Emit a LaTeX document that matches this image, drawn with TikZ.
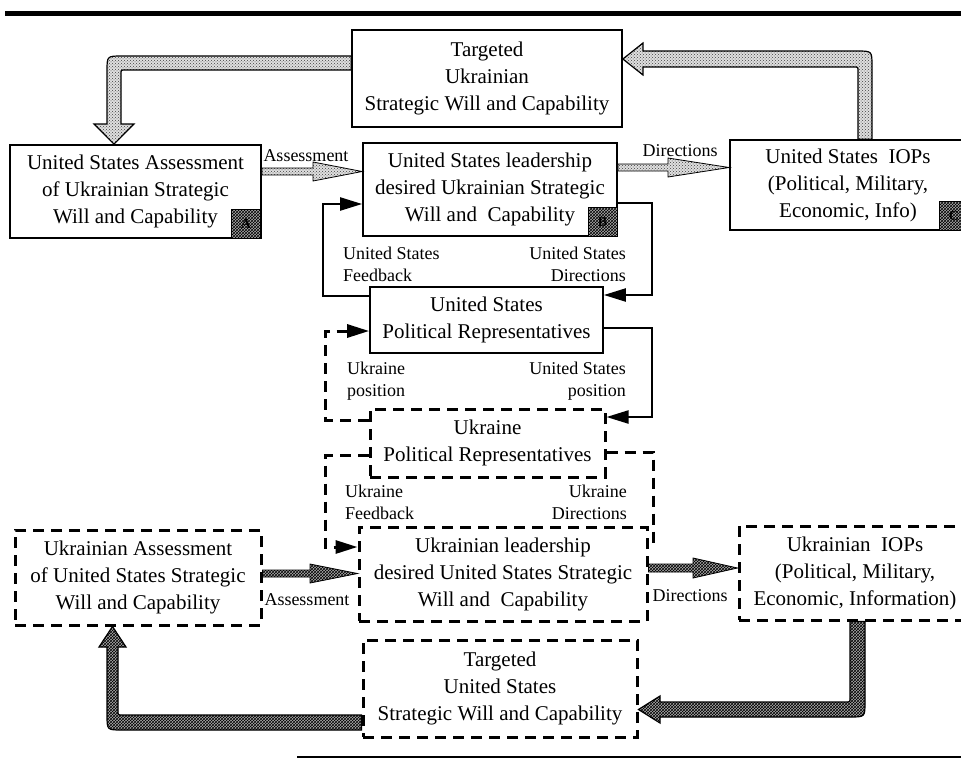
\documentclass[tikz,border=0pt]{standalone}
\usepackage{fontspec}
\setmainfont{Liberation Serif}
\usetikzlibrary{arrows.meta,patterns,calc}
\begin{document}
\begin{tikzpicture}[x=1pt,y=-1pt,
  box/.style={draw, line width=1.7pt, align=center, inner sep=0pt, font=\fontsize{21}{27}\selectfont},
  dbox/.style={box, line width=3pt, dash pattern=on 11pt off 7pt},
  lbl/.style={inner sep=0pt, font=\fontsize{18}{22}\selectfont},
  conn/.style={line width=2.2pt, -{Triangle[length=22pt,width=13pt]}},
  dconn/.style={line width=3pt, dash pattern=on 11pt off 7pt},
  dconnh/.style={dconn, -{Triangle[length=22pt,width=13pt]}},
  lightp/.style={draw=black, line width=1.2pt, preaction={fill=gray!25}, pattern=crosshatch dots, pattern color=black!75},
  darkp/.style={draw=black, line width=1.2pt, preaction={fill=gray!65}, pattern=crosshatch, pattern color=black},
  tagsq/.style={draw, line width=1pt, minimum size=29pt, inner sep=0pt, preaction={fill=gray!65}, pattern=crosshatch, pattern color=black, font=\bfseries\fontsize{14}{14}\selectfont}
]
\useasboundingbox (0,0) rectangle (961,761);

% rules
\draw[line width=5pt] (5,13) -- (961,13);
\draw[line width=2.5pt] (297,757) -- (961,757);

% boxes
\node[box, minimum width=270pt, minimum height=97pt] (T1) at (487,78.5) {Targeted\\Ukrainian\\Strategic Will and Capability};
\node[box, minimum width=251pt, minimum height=93pt] (A) at (135.5,191.5) {United States Assessment\\of Ukrainian Strategic\\Will and Capability};
\node[box, minimum width=254pt, minimum height=93pt] (B) at (490,189.5) {United States leadership\\desired Ukrainian Strategic\\Will and~~Capability};
\node[box, minimum width=236pt, minimum height=90pt] (C) at (848,185) {United States~~IOPs\\(Political, Military,\\Economic, Info)};
\node[box, minimum width=233pt, minimum height=66pt] (P1) at (486.5,320) {United States\\Political Representatives};
\node[dbox, minimum width=235pt, minimum height=68pt] (P2) at (487.5,443) {Ukraine\\Political Representatives};
\node[dbox, minimum width=288pt, minimum height=94pt] (UB) at (503,574) {Ukrainian leadership\\desired United States Strategic\\Will and~~Capability};
\node[dbox, minimum width=246pt, minimum height=95pt] (UA) at (138,577.5) {Ukrainian Assessment\\of United States Strategic\\Will and Capability};
\node[dbox, minimum width=232pt, minimum height=94pt] (UC) at (855,573) {Ukrainian~~IOPs\\(Political, Military,\\Economic, Information)};
\node[dbox, minimum width=274pt, minimum height=97pt] (UT) at (500,688.5) {Targeted\\United States\\Strategic Will and Capability};

% tag squares
\node[tagsq] (sqA) at (246,224) {A};
\node[tagsq] (sqB) at (602.5,221.5) {B};
\node[tagsq] (sqC) at (954,216) {C};

% big hatched arrows (top)
\filldraw[lightp] (T1.west |- 0,56) -- (122,56) .. controls (107,56) .. (107,71) -- (107,124) -- (94,124) -- (114,0 |- A.north) -- (134,124) -- (121,124) -- (121,74) .. controls (121,70) .. (125,70) -- (T1.west |- 0,70) -- cycle;
\filldraw[lightp] (858,0 |- C.north) -- (858,71) .. controls (858,67) .. (854,67) -- (643,67) -- (643,75) -- (T1.east |- 0,59) -- (643,43) -- (643,51) -- (857,51) .. controls (872,51) .. (872,66) -- (872,0 |- C.north) -- cycle;

% thin hatched arrows (top)
\filldraw[lightp, line width=0.8pt] (A.east |- 0,168) -- (313,168) -- (313,162) -- (B.west |- 0,171.5) -- (313,181) -- (313,175) -- (A.east |- 0,175) -- cycle;
\filldraw[lightp, line width=0.8pt] (B.east |- 0,164) -- (668,164) -- (668,158) -- (C.west |- 0,167.5) -- (668,177) -- (668,171) -- (B.east |- 0,171) -- cycle;
\node[lbl] (lAss1) at (306,156) {Assessment};
\node[lbl] (lDir1) at (680,151) {Directions};

% US feedback / directions
\draw[conn] (P1.west |- 0,296) -- (323,296) -- (323,204) -- (B.west |- 0,204);
\draw[conn] (B.east |- 0,203) -- (652,203) -- (652,295) -- (P1.east |- 0,295);
\node[lbl, anchor=west, align=left] (lUSF) at (343,264) {United States\\Feedback};
\node[lbl, anchor=east, align=right] (lUSD) at (626,264) {United States\\Directions};

% positions
\draw[conn] (P1.east |- 0,328) -- (652,328) -- (652,417) -- (P2.east |- 0,417);
\draw[dconnh] (P2.west |- 0,420) -- (325,420) -- (325,331) -- (P1.west |- 0,331);
\node[lbl, anchor=west, align=left] (lUP) at (347,381) {Ukraine\\position};
\node[lbl, anchor=east, align=right] (lUSP) at (626,381) {United States\\position};

% Ukraine feedback / directions
\draw[dconnh] (P2.west |- 0,455) -- (325,455) -- (325,547) -- (UB.west |- 0,547);
\draw[dconn] (P2.east |- 0,452) -- (653,452) -- (653,543) -- (UB.east |- 0,543);
\node[lbl, anchor=west, align=left] (lUF) at (345,502) {Ukraine\\Feedback};
\node[lbl, anchor=east, align=right] (lUD) at (627,502) {Ukraine\\Directions};

% thin hatched arrows (bottom)
\filldraw[darkp, line width=0.8pt] (UA.east |- 0,570) -- (310,570) -- (310,564) -- (UB.west |- 0,573.5) -- (310,583) -- (310,577) -- (UA.east |- 0,577) -- cycle;
\filldraw[darkp, line width=0.8pt] (UB.east |- 0,564) -- (693,564) -- (693,558) -- (UC.west |- 0,568) -- (693,578) -- (693,572) -- (UB.east |- 0,572) -- cycle;
\node[lbl] (lAss2) at (307,600) {Assessment};
\node[lbl] (lDir2) at (690,596) {Directions};

% big hatched arrows (bottom)
\filldraw[darkp] (850,0 |- UC.south) -- (850,698) .. controls (850,702) .. (846,702) -- (660,702) -- (660,696) -- (UT.east |- 0,709.5) -- (660,723) -- (660,717) -- (850,717) .. controls (865,717) .. (865,702) -- (865,0 |- UC.south) -- cycle;
\filldraw[darkp] (UT.west |- 0,715) -- (122,715) .. controls (118,715) .. (118,711) -- (118,647) -- (126,647) -- (112.5,0 |- UA.south) -- (99,647) -- (107,647) -- (107,715) .. controls (107,730) .. (122,730) -- (UT.west |- 0,730) -- cycle;
\end{tikzpicture}
\end{document}
